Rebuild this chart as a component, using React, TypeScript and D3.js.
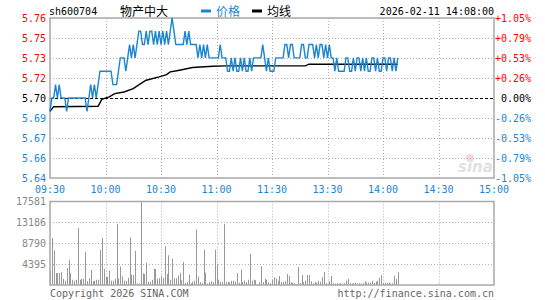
import React from "react";
import * as d3 from "d3";

const symbol = "sh600704";
const stockName = "物产中大";
const legendPrice = "价格";
const legendAvg = "均线";
const timestamp = "2026-02-11 14:08:00";
const prevClose = 5.7;
const pctRange = 1.05;
const priceTickLabels = ["5.76", "5.75", "5.73", "5.72", "5.70", "5.69", "5.67", "5.66", "5.64"];
const pctTickLabels = ["+1.05%", "+0.79%", "+0.53%", "+0.26%", "0.00%", "-0.26%", "-0.53%", "-0.79%", "-1.05%"];
const timeLabels = ["09:30", "10:00", "10:30", "11:00", "11:30", "13:30", "14:00", "14:30", "15:00"];
const volTickLabels = ["17581", "13186", "8790", "4395"];
const volMax = 17581;
const totalMinutes = 240;

const prices = [
  5.69, 5.70, 5.70, 5.71, 5.70, 5.71, 5.70, 5.70, 5.70, 5.69,
  5.70, 5.70, 5.70, 5.70, 5.70, 5.70, 5.70, 5.70, 5.70, 5.70,
  5.69, 5.70, 5.71, 5.70, 5.71, 5.70, 5.71, 5.72, 5.72, 5.72,
  5.72, 5.72, 5.72, 5.72, 5.71, 5.71, 5.71, 5.72, 5.73, 5.73,
  5.73, 5.72, 5.73, 5.74, 5.73, 5.74, 5.73, 5.74, 5.75, 5.75,
  5.74, 5.74, 5.75, 5.74, 5.75, 5.75, 5.74, 5.75, 5.74, 5.75,
  5.74, 5.75, 5.74, 5.75, 5.74, 5.75, 5.76, 5.75, 5.74, 5.74,
  5.74, 5.74, 5.74, 5.75, 5.74, 5.75, 5.74, 5.74, 5.74, 5.74,
  5.73, 5.74, 5.73, 5.74, 5.73, 5.74, 5.73, 5.73, 5.73, 5.73,
  5.73, 5.73, 5.74, 5.73, 5.73, 5.73, 5.72, 5.72, 5.73, 5.72,
  5.73, 5.72, 5.72, 5.73, 5.72, 5.73, 5.72, 5.72, 5.73, 5.72,
  5.73, 5.73, 5.73, 5.73, 5.73, 5.74, 5.73, 5.72, 5.73, 5.72,
  5.72, 5.72, 5.73, 5.73, 5.73, 5.73, 5.73, 5.74, 5.74, 5.73,
  5.74, 5.74, 5.73, 5.73, 5.73, 5.73, 5.74, 5.74, 5.73, 5.73,
  5.74, 5.74, 5.74, 5.73, 5.74, 5.73, 5.74, 5.74, 5.73, 5.74,
  5.73, 5.74, 5.73, 5.73, 5.72, 5.73, 5.72, 5.72, 5.72, 5.72,
  5.73, 5.73, 5.72, 5.72, 5.73, 5.72, 5.73, 5.73, 5.72, 5.73,
  5.72, 5.73, 5.72, 5.72, 5.73, 5.73, 5.72, 5.73, 5.72, 5.72,
  5.73, 5.73, 5.72, 5.73, 5.73, 5.72, 5.73, 5.72, 5.73,
];

const avgIdx = [0, 2, 26, 28, 32, 35, 40, 45, 49, 52, 59, 63, 65, 70, 77, 88, 95, 138, 140, 188];
const avgVal = [5.69, 5.6935, 5.6938, 5.699, 5.7008, 5.7033, 5.7045, 5.707, 5.7108, 5.7133, 5.7158, 5.7175, 5.7195, 5.7208, 5.7228, 5.7238, 5.724, 5.724, 5.7253, 5.7253];

const volumes = [
  3024, 9900, 7200, 2500, 2500, 2500, 2700, 1300, 900, 3600,
  5300, 2500, 1100, 900, 1100, 12000, 1100, 1300, 1300, 7000,
  800, 1400, 3200, 800, 900, 1100, 1100, 7400, 9900, 3400,
  1700, 1700, 3000, 900, 900, 1300, 12870, 1400, 3900, 1800,
  900, 900, 1500, 10057, 2200, 2100, 7200, 400, 300, 17581,
  2450, 2300, 4641, 700, 700, 1100, 3400, 3400, 1300, 1400,
  2000, 1500, 8158, 2300, 6259, 1100, 5485, 1400, 1400, 2000,
  2532, 1000, 4852, 400, 600, 2180, 400, 700, 900, 11673,
  1750, 600, 400, 7454, 2600, 300, 600, 800, 600, 7454,
  4290, 1100, 700, 600, 12870, 600, 600, 600, 900, 900,
  700, 2532, 500, 3235, 600, 900, 600, 1100, 6540, 900,
  1100, 1000, 200, 600, 3938, 600, 1300, 1100, 600, 400,
  1100, 1617, 1400, 900, 1900, 600, 700, 800, 2320, 1900,
  600, 400, 400, 200, 3797, 400, 2110, 600, 900, 2110,
  2110, 800, 400, 600, 500, 900, 700, 1688, 2743, 400,
  200, 800, 1900, 400, 300, 400, 300, 400, 300, 400,
  900, 1266, 400, 300, 400, 500, 300, 400, 300, 400,
  800, 500, 500, 500, 900, 500, 700, 900, 1477, 2040,
  400, 500, 400, 500, 300, 400, 1900, 1266, 2743,
];

const MONO = "'DejaVu Sans Mono', monospace";
const CJK = "'Noto Sans CJK SC', sans-serif";
const RED = "#ff0000";
const BLUE = "#1a86d2";
const GRID = "#b0b0b0";
const BORDER = "#a8a8a8";

export default function App() {
  const left = 50;
  const right = 494;
  const top = 18;
  const bottom = 178;
  const vTop = 201.5;
  const vBottom = 285;

  const x = d3.scaleLinear().domain([0, totalMinutes]).range([left, right]);
  const yMax = prevClose * (1 + pctRange / 100);
  const yMin = prevClose * (1 - pctRange / 100);
  const y = d3.scaleLinear().domain([yMin, yMax]).range([bottom, top]);
  const yv = d3.scaleLinear().domain([0, volMax]).range([vBottom, vTop]);

  const priceLine = d3
    .line<number>()
    .x((_, i) => x(i))
    .y((d) => y(d));
  const avgLine = d3
    .line<number>()
    .x((_, i) => x(avgIdx[i]))
    .y((d) => y(d));

  const gridLevels = d3.range(priceTickLabels.length).map((k) => top + ((bottom - top) * k) / (priceTickLabels.length - 1));
  const timeTicks = timeLabels.map((_, k) => (totalMinutes / (timeLabels.length - 1)) * k);
  const volLevels = volTickLabels.map((_, k) => volMax - (volMax / volTickLabels.length) * k);

  const labelColor = (k: number) => (k < 4 ? RED : k === 4 ? "#000" : BLUE);

  return (
    <svg
      width={545}
      height={300}
      style={{ position: "absolute", left: 0, top: 0, background: "#fff" }}
      fontFamily={MONO}
      fontSize={10}
    >
      <rect x={0} y={0} width={545} height={300} fill="#fff" />
      {/* header */}
      <text x={49} y={15} fill="#000">{symbol}</text>
      <text x={120} y={16} fill="#000" fontFamily={CJK} fontSize={12}>{stockName}</text>
      <rect x={201} y={9.5} width={10} height={3} fill={BLUE} />
      <text x={216} y={16} fill={BLUE} fontFamily={CJK} fontSize={12}>{legendPrice}</text>
      <rect x={252} y={9.5} width={10} height={3} fill="#000" />
      <text x={267} y={16} fill="#000" fontFamily={CJK} fontSize={12}>{legendAvg}</text>
      <text x={494} y={15} fill="#000" textAnchor="end">{timestamp}</text>

      {/* watermark */}
      <g opacity={0.55}>
        <circle cx={470} cy={158} r={4} fill="#f0b8b8" />
        <text x={458} y={172} fill="#c8c8c8" fontFamily="'DejaVu Sans', sans-serif" fontSize={15} fontWeight="bold" fontStyle="italic">sina</text>
      </g>

      {/* main grid */}
      {gridLevels.map((gy, k) =>
        k === 0 || k === gridLevels.length - 1 ? null : (
          <line
            key={"h" + k}
            x1={left}
            x2={right}
            y1={Math.round(gy) + 0.5}
            y2={Math.round(gy) + 0.5}
            stroke={k === 4 ? "#000" : GRID}
            strokeDasharray={k === 4 ? "3,2" : "1,2"}
          />
        )
      )}
      {timeTicks.slice(1, -1).map((t, k) => (
        <line key={"v" + k} x1={Math.round(x(t)) + 0.5} x2={Math.round(x(t)) + 0.5} y1={top} y2={bottom} stroke={GRID} strokeDasharray="1,2" />
      ))}
      <rect x={left} y={top} width={right - left} height={bottom - top} fill="none" stroke={BORDER} strokeWidth={1.5} />

      {/* lines */}
      <path d={avgLine(avgVal) || ""} fill="none" stroke="#000" strokeWidth={1.4} />
      <path d={priceLine(prices) || ""} fill="none" stroke={BLUE} strokeWidth={1.4} strokeLinejoin="miter" />

      {/* price axis labels */}
      {priceTickLabels.map((lab, k) => (
        <text key={"pl" + k} x={46} y={gridLevels[k] + 3.5} textAnchor="end" fill={labelColor(k)}>{lab}</text>
      ))}
      {pctTickLabels.map((lab, k) => (
        <text key={"pr" + k} x={531} y={gridLevels[k] + 3.5} textAnchor="end" fill={labelColor(k)}>{lab}</text>
      ))}
      {timeLabels.map((lab, k) => (
        <text key={"t" + k} x={x(timeTicks[k])} y={193} textAnchor="middle" fill={BLUE}>{lab}</text>
      ))}

      {/* volume panel */}
      {volLevels.slice(1).map((v, k) => (
        <line key={"vh" + k} x1={left} x2={right} y1={Math.round(yv(v)) + 0.5} y2={Math.round(yv(v)) + 0.5} stroke={GRID} strokeDasharray="1,2" />
      ))}
      {timeTicks.slice(1, -1).map((t, k) => (
        <line key={"vv" + k} x1={Math.round(x(t)) + 0.5} x2={Math.round(x(t)) + 0.5} y1={vTop} y2={vBottom} stroke={GRID} strokeDasharray="1,2" />
      ))}
      {volumes.map((v, i) => (
        <rect key={"b" + i} x={Math.round(x(i))} y={yv(v)} width={1} height={vBottom - yv(v)} fill="#999" />
      ))}
      <rect x={left} y={vTop} width={right - left} height={vBottom - vTop} fill="none" stroke={BORDER} strokeWidth={1.5} />
      {volTickLabels.map((lab, k) => (
        <text key={"vl" + k} x={46} y={yv(volLevels[k]) + 3.5} textAnchor="end" fill="#888">{lab}</text>
      ))}

      {/* footer */}
      <text x={50} y={297} fill="#666">Copyright 2026 SINA.COM</text>
      <text x={494} y={297} fill="#666" textAnchor="end">http://finance.sina.com.cn</text>
    </svg>
  );
}
